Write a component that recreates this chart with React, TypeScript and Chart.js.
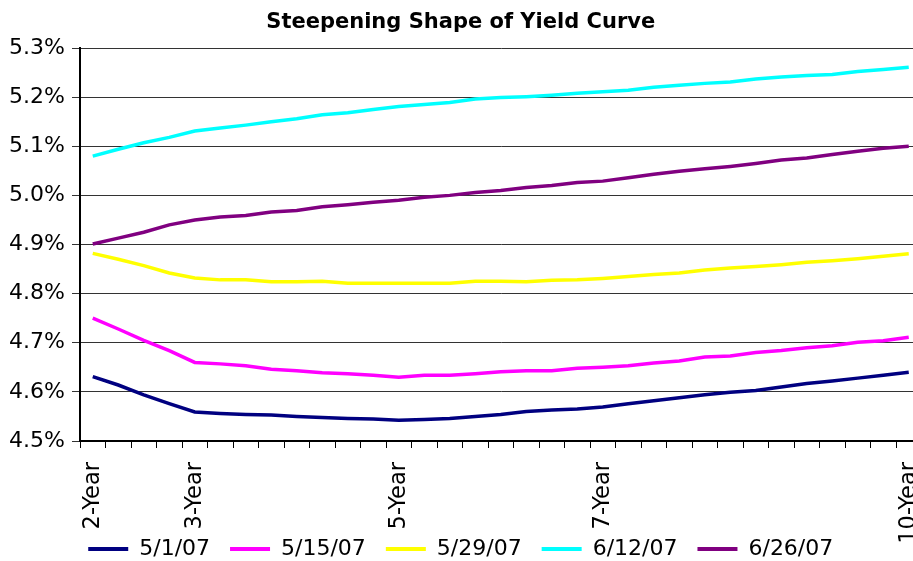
import { useEffect, useRef } from "react";
import { Chart, registerables } from "chart.js";

Chart.register(...registerables);

// Quarterly maturities from 2 to 10 years; only the key tenors are labelled
const categories = [
  "2-Year", "", "", "",
  "3-Year", "", "", "", "", "", "", "",
  "5-Year", "", "", "", "", "", "", "",
  "7-Year", "", "", "", "", "", "", "", "", "", "", "",
  "10-Year",
];

const seriesNames = ["5/1/07", "5/15/07", "5/29/07", "6/12/07", "6/26/07"];
const seriesColors = ["#000080", "#FF00FF", "#FFFF00", "#00FFFF", "#800080"];

const may1 = [4.631, 4.614, 4.594, 4.576, 4.559, 4.556, 4.554, 4.553, 4.550, 4.548, 4.546, 4.545, 4.542, 4.544, 4.546, 4.550, 4.554, 4.560, 4.563, 4.565, 4.569, 4.576, 4.582, 4.588, 4.594, 4.599, 4.603, 4.610, 4.617, 4.622, 4.628, 4.634, 4.640];
const may15 = [4.750, 4.728, 4.705, 4.684, 4.660, 4.657, 4.653, 4.646, 4.643, 4.639, 4.637, 4.634, 4.630, 4.634, 4.634, 4.637, 4.641, 4.643, 4.643, 4.648, 4.650, 4.653, 4.659, 4.663, 4.671, 4.673, 4.680, 4.684, 4.690, 4.694, 4.701, 4.704, 4.711];
const may29 = [4.882, 4.870, 4.857, 4.842, 4.832, 4.828, 4.828, 4.824, 4.824, 4.825, 4.821, 4.821, 4.821, 4.821, 4.821, 4.825, 4.825, 4.824, 4.827, 4.828, 4.831, 4.835, 4.839, 4.842, 4.848, 4.852, 4.855, 4.859, 4.864, 4.867, 4.871, 4.876, 4.881];
const jun12 = [5.080, 5.094, 5.107, 5.118, 5.131, 5.137, 5.143, 5.150, 5.156, 5.164, 5.168, 5.175, 5.181, 5.185, 5.189, 5.196, 5.199, 5.201, 5.204, 5.208, 5.211, 5.214, 5.220, 5.224, 5.228, 5.231, 5.237, 5.241, 5.244, 5.246, 5.252, 5.256, 5.261];
const jun26 = [4.901, 4.913, 4.925, 4.940, 4.950, 4.956, 4.959, 4.966, 4.969, 4.977, 4.981, 4.986, 4.990, 4.996, 5.000, 5.006, 5.010, 5.016, 5.020, 5.026, 5.029, 5.036, 5.043, 5.049, 5.054, 5.059, 5.065, 5.072, 5.076, 5.083, 5.090, 5.096, 5.100];

const seriesValues = [may1, may15, may29, jun12, jun26];

const yMin = 4.5;
const yMax = 5.3;
const yStep = 0.1;

const FONT = "'DejaVu Sans', Verdana, sans-serif";

export default function App() {
  const canvasRef = useRef<HTMLCanvasElement | null>(null);

  useEffect(() => {
    document.documentElement.style.overflow = "hidden";
    document.body.style.overflow = "hidden";
    const canvas = canvasRef.current;
    if (!canvas) return;
    const chart = new Chart(canvas, {
      type: "line",
      data: {
        labels: categories,
        datasets: seriesNames.map((name, i) => ({
          label: name,
          data: seriesValues[i],
          borderColor: seriesColors[i],
          backgroundColor: seriesColors[i],
          borderWidth: 3.5,
          pointRadius: 0,
          tension: 0,
          fill: false,
        })),
      },
      options: {
        animation: false,
        responsive: false,
        maintainAspectRatio: false,
        layout: { padding: { left: 0, right: 2.5, top: 0, bottom: 0 } },
        plugins: {
          title: {
            display: true,
            text: "Steepening Shape of Yield Curve",
            color: "#000",
            font: { family: FONT, size: 21, weight: "bold" },
            padding: { top: 9.5, bottom: 13.3 },
          },
          legend: {
            position: "bottom",
            labels: {
              color: "#000",
              font: { family: FONT, size: 22 },
              boxWidth: 40,
              boxHeight: 4,
              padding: 20,
              generateLabels: (c: any) =>
                Chart.defaults.plugins.legend.labels
                  .generateLabels(c)
                  .map((l: any) => ({ ...l, lineWidth: 0, fillStyle: l.strokeStyle })),
            },
          },
          tooltip: { enabled: false },
        },
        scales: {
          x: {
            type: "category",
            offset: true,
            grid: {
              display: true,
              offset: true,
              drawOnChartArea: false,
              drawTicks: true,
              tickLength: 7,
              color: "#000",
            },
            border: { display: true, color: "#000", width: 2 },
            ticks: {
              autoSkip: false,
              minRotation: 90,
              maxRotation: 90,
              padding: 14,
              color: "#000",
              font: { family: FONT, size: 22.5 },
            },
            afterFit: (scale: any) => {
              scale.height = 77;
              scale.paddingLeft = 0;
              scale.paddingRight = 0;
              scale._computeLabelArea = () => undefined;
            },
          },
          y: {
            min: yMin,
            max: yMax,
            grid: {
              color: "#333",
              lineWidth: 1,
              drawTicks: true,
              tickLength: 8,
            },
            border: { display: true, color: "#000", width: 2 },
            ticks: {
              stepSize: yStep,
              padding: 7,
              color: "#000",
              font: { family: FONT, size: 22 },
              callback: (v: any) => Number(v).toFixed(1) + "%",
            },
            afterFit: (scale: any) => {
              scale.width = 80;
            },
          },
        },
      },
    });
    return () => chart.destroy();
  }, []);

  return (
    <div style={{ position: "absolute", left: 0, top: 0, width: 924, height: 570 }}>
      <canvas ref={canvasRef} width={924} height={570} style={{ display: "block" }} />
    </div>
  );
}
